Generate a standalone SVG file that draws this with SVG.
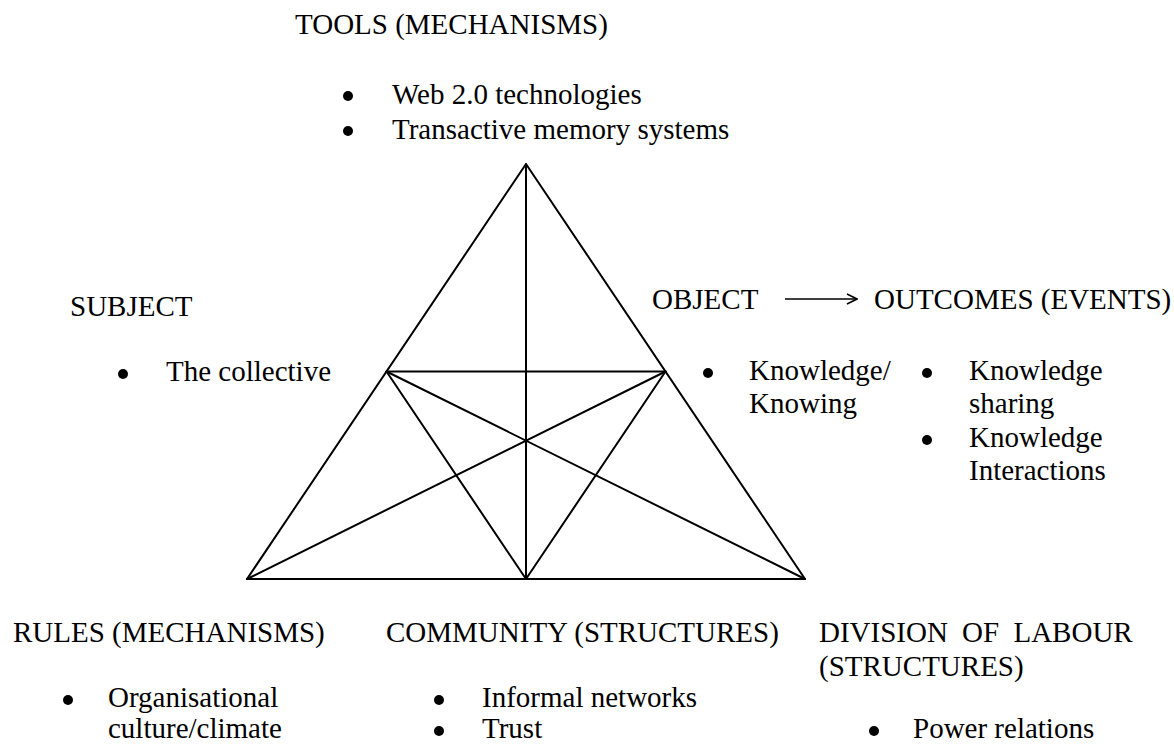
<svg xmlns="http://www.w3.org/2000/svg" width="1174" height="745" viewBox="0 0 1174 745">
  <defs>
    <style>
      text { font-family: "Liberation Serif", "Times New Roman", serif; font-size: 29px; fill: #000; }
      .dot { fill: #000; }
      .edge { stroke: #000; stroke-width: 2; fill: none; stroke-linecap: round; stroke-linejoin: round; }
      .arrow { stroke: #000; stroke-width: 1.6; fill: none; }
    </style>
    <marker id="open-arrow" viewBox="0 0 12 12" refX="11" refY="6" markerWidth="12" markerHeight="12" markerUnits="userSpaceOnUse" orient="auto">
      <path d="M1,1 L11,6 L1,11" fill="none" stroke="#000" stroke-width="1.6"/>
    </marker>
    <!-- list bullet -->
    <circle id="bullet" r="5" class="dot"/>
  </defs>
  <rect width="1174" height="745" fill="#fff"/>

  <!-- activity triangle and its internal links -->
  <g id="connectors">
    <polygon class="edge" points="526,164 247,579 805,579"/>
    <line class="edge" x1="526" y1="164" x2="526" y2="579"/>
    <line class="edge" x1="386.5" y1="371.5" x2="665.5" y2="371.5"/>
    <line class="edge" x1="386.5" y1="371.5" x2="526" y2="579"/>
    <line class="edge" x1="665.5" y1="371.5" x2="526" y2="579"/>
    <line class="edge" x1="386.5" y1="371.5" x2="805" y2="579"/>
    <line class="edge" x1="665.5" y1="371.5" x2="247" y2="579"/>
    <line class="arrow" x1="785" y1="299" x2="857" y2="299" marker-end="url(#open-arrow)"/>
  </g>

  <g id="tools">
    <text x="295" y="34">TOOLS (MECHANISMS)</text>
    <use href="#bullet" x="348" y="96"/>
    <text x="392" y="104">Web 2.0 technologies</text>
    <use href="#bullet" x="348" y="131"/>
    <text x="392" y="139">Transactive memory systems</text>
  </g>

  <g id="subject">
    <text x="70" y="316">SUBJECT</text>
    <use href="#bullet" x="123" y="374"/>
    <text x="166" y="381">The collective</text>
  </g>

  <g id="object">
    <text x="652" y="309">OBJECT</text>
    <use href="#bullet" x="708" y="373"/>
    <text x="749" y="380">Knowledge/</text>
    <text x="749" y="413">Knowing</text>
  </g>

  <g id="outcomes">
    <text x="874" y="309">OUTCOMES (EVENTS)</text>
    <use href="#bullet" x="927" y="373"/>
    <text x="969" y="380">Knowledge</text>
    <text x="969" y="413">sharing</text>
    <use href="#bullet" x="927" y="440"/>
    <text x="969" y="447">Knowledge</text>
    <text x="969" y="480">Interactions</text>
  </g>

  <g id="rules">
    <text x="13" y="642">RULES (MECHANISMS)</text>
    <use href="#bullet" x="68" y="700"/>
    <text x="108" y="707">Organisational</text>
    <text x="108" y="738">culture/climate</text>
  </g>

  <g id="community">
    <text x="386" y="642">COMMUNITY (STRUCTURES)</text>
    <use href="#bullet" x="439" y="700"/>
    <text x="482" y="707">Informal networks</text>
    <use href="#bullet" x="439" y="731"/>
    <text x="482" y="738">Trust</text>
  </g>

  <g id="division-of-labour">
    <text x="819" y="642" word-spacing="7">DIVISION OF LABOUR</text>
    <text x="819" y="676">(STRUCTURES)</text>
    <use href="#bullet" x="874" y="731"/>
    <text x="913" y="738">Power relations</text>
  </g>
</svg>
